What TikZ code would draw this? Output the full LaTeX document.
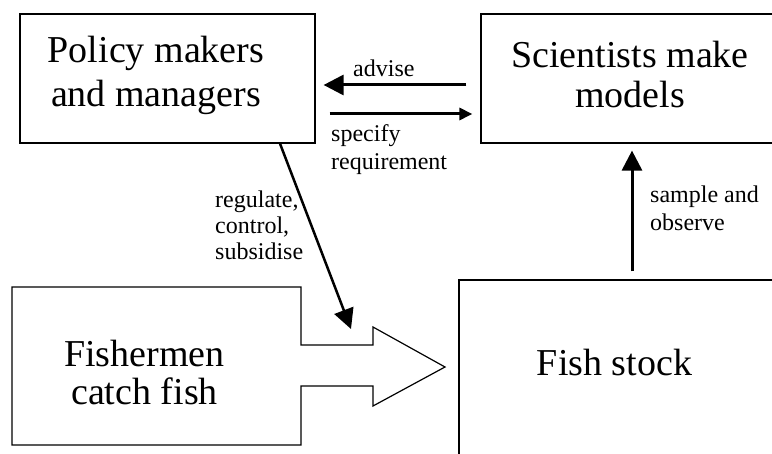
\documentclass[tikz,border=0pt]{standalone}
\usepackage{fontspec}
\setmainfont{Liberation Serif}
\usetikzlibrary{arrows.meta}

\tikzset{
    box/.style={draw, line width=1.2pt, inner sep=0pt},
    bigtext/.style={align=center, inner sep=0pt, anchor=base},
    smalltext/.style={font=\fontsize{24}{28}\selectfont, align=left, inner sep=0pt, anchor=base west},
    flow/.style={line width=3pt, -{Triangle[length=20pt,width=20pt]}},
}

\begin{document}
\begin{tikzpicture}[x=1pt,y=-1pt]
    \useasboundingbox (0,0) rectangle (772,454);
    \clip (0,0) rectangle (772,454);

    % Boxes
    \node[box, minimum width=295pt, minimum height=129pt] (policy) at (167.5,78.5) {};
    \node[box, minimum width=298pt, minimum height=129pt] (scient) at (630,78.5) {};
    \node[box, minimum width=330pt, minimum height=200pt] (stock) at (624,380) {};

    % Fishermen as a fat arrow
    \draw[line width=1.2pt] (12,287) -- (301,287) -- (301,345) -- (373,345) -- (373,327)
        -- (445,367) -- (373,406) -- (373,386) -- (301,386) -- (301,445) -- (12,445) -- cycle;

    % Box texts (base = last line)
    \node[bigtext, font=\fontsize{38}{44}\selectfont] (policytxt) at (156,107) {Policy makers\\and managers};
    \node[bigtext, font=\fontsize{38}{40}\selectfont] (scienttxt) at (630,108) {Scientists make\\models};
    \node[bigtext, font=\fontsize{38}{38}\selectfont] (fishertxt) at (144.5,405) {Fishermen\\catch fish};
    \node[bigtext, font=\fontsize{38}{38}\selectfont] (stocktxt) at (614.5,376) {Fish stock};

    % Arrows
    \coordinate (catch) at (351,329);
    \draw[flow] ([xshift=-14pt,yshift=-6.5pt]scient.west) -- ([xshift=8pt,yshift=-6.5pt]policy.east);
    \draw[line width=3pt, -{Triangle[length=13pt,width=12pt]}]
        ([xshift=14pt,yshift=-35.5pt]policy.east) -- ([xshift=-8pt,yshift=-35.5pt]scient.west);
    \draw[line width=2.5pt, -{Triangle[length=20pt,width=20pt]}] ([xshift=112.5pt]policy.south) -- (catch);
    \draw[flow] ([xshift=8pt,yshift=8pt]stock.north) -- ([xshift=2pt,yshift=-7pt]scient.south);

    % Labels
    \node[smalltext] (advise) at (353,77) {advise};
    \node[smalltext] (specify) at (331,170) {specify\\requirement};
    \node[smalltext, font=\fontsize{24}{26}\selectfont] (regulate) at (215,260) {regulate,\\control,\\subsidise};
    \node[smalltext] (sample) at (650,231) {sample and\\observe};
\end{tikzpicture}
\end{document}
